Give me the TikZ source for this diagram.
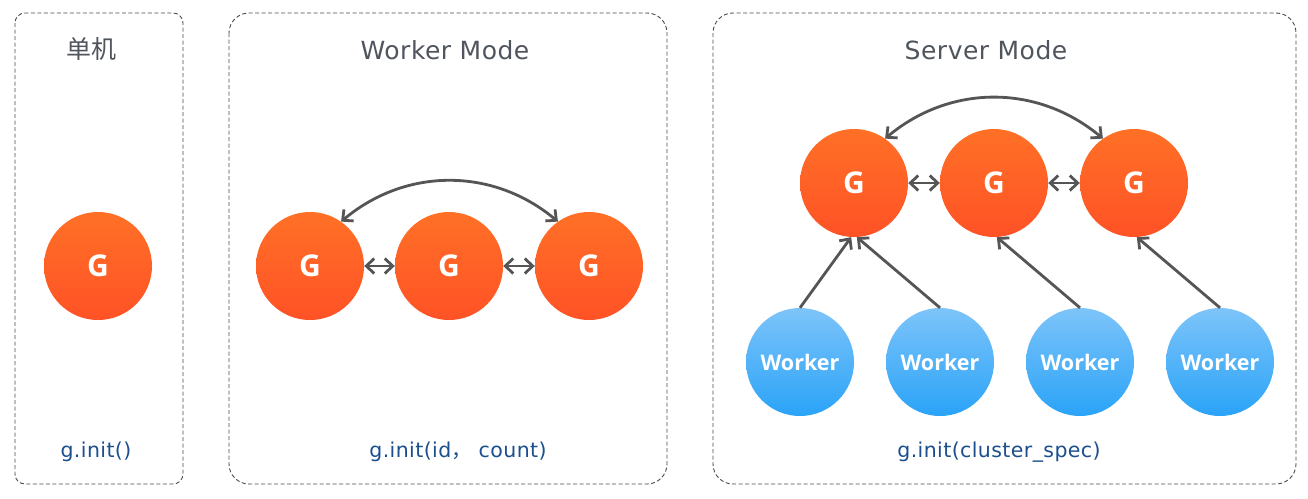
\documentclass[tikz,border=0pt]{standalone}
\usepackage{fontspec}
\setmainfont{DejaVu Sans}[LetterSpace=2]
\newfontfamily\boldf{Open Sans}
\newfontfamily\cjk{Noto Sans CJK SC}
\usetikzlibrary{arrows.meta}
\definecolor{frameg}{HTML}{4A4A4A}
\definecolor{titleg}{HTML}{50555D}
\definecolor{codeb}{HTML}{1B4F8E}
\definecolor{gtop}{HTML}{FF7026}
\definecolor{gbot}{HTML}{FF5226}
\definecolor{wtop}{HTML}{7DC4F9}
\definecolor{wbot}{HTML}{2AA3F8}
\definecolor{arrg}{HTML}{555555}
\tikzset{
  frame/.style={draw=frameg, line width=0.9pt, dash pattern=on 4pt off 2.5pt},
  gnode/.style={circle, minimum size=108pt, inner sep=0pt, top color=gtop, bottom color=gbot, draw=none, text=white, font=\boldf\fontsize{30}{30}\selectfont\bfseries},
  wnode/.style={circle, minimum size=108pt, inner sep=0pt, top color=wtop, bottom color=wbot, draw=none, text=white, font=\boldf\fontsize{21.5}{21.5}\selectfont\bfseries},
  title/.style={text=titleg, font=\fontsize{25}{25}\selectfont},
  code/.style={text=codeb, font=\fontsize{20.5}{20.5}\selectfont},
  conn/.style={draw=arrg, line width=2.8pt, {Straight Barb[length=8pt,width=15pt]}-{Straight Barb[length=8pt,width=15pt]}},
  oneway/.style={draw=arrg, line width=2.8pt, -{Straight Barb[length=8pt,width=15pt]}},
}
\begin{document}
\begin{tikzpicture}[x=1pt,y=-1pt]
\useasboundingbox (0,0) rectangle (1308,498);
\fill[white] (0,0) rectangle (1308,498);
% frames
\draw[frame, rounded corners=10pt] (15,13) rectangle (183,484);
\draw[frame, rounded corners=20pt] (229,13) rectangle (667,484);
\draw[frame, rounded corners=20pt] (713,13) rectangle (1296,484);
% titles
\node[title, font=\cjk\fontsize{25}{25}\selectfont] (t1) at (91,49) {单机};
\node[title] (t2) at (445,50) {Worker Mode};
\node[title] (t3) at (986,50) {Server Mode};
% code labels
\node[code] (c1) at (96,452) {g.init()};
\node[code] (c2) at (458,452) {g.init(id{\cjk，} count)};
\node[code] (c3) at (999,452) {g.init(cluster\_spec)};
% standalone
\node[gnode] (s) at (98,266) {G};
% worker mode
\node[gnode] (a1) at (310,266) {G};
\node[gnode] (a2) at (449,266) {G};
\node[gnode] (a3) at (589,266) {G};
\draw[conn] (a1) -- (a2);
\draw[conn] (a2) -- (a3);
\draw[conn] (a1.55) to[bend left=40] (a3.125);
% server mode
\node[gnode] (b1) at (854,183) {G};
\node[gnode] (b2) at (994,183) {G};
\node[gnode] (b3) at (1134,183) {G};
\draw[conn] (b1) -- (b2);
\draw[conn] (b2) -- (b3);
\draw[conn] (b1.55) to[bend left=40] (b3.125);
\node[wnode] (w1) at (800,362) {Worker};
\node[wnode] (w2) at (940,362) {Worker};
\node[wnode] (w3) at (1080,362) {Worker};
\node[wnode] (w4) at (1220,362) {Worker};
\draw[oneway] (w1.north) -- (b1.-93);
\draw[oneway] (w2.north) -- (b1.-87);
\draw[oneway] (w3.north) -- (b2.-87);
\draw[oneway] (w4.north) -- (b3.-87);
\end{tikzpicture}
\end{document}
